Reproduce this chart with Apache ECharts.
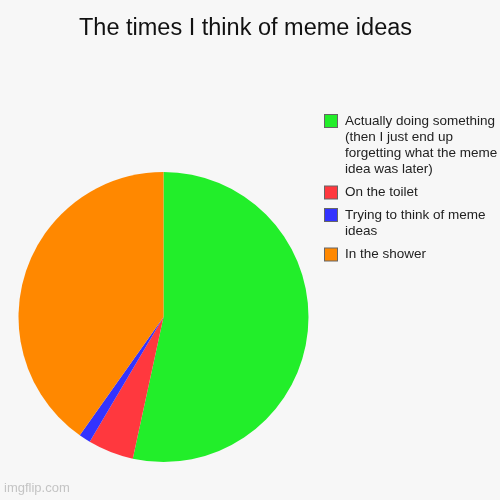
<!DOCTYPE html>
<html>
<head>
<meta charset="utf-8">
<script src="https://cdn.jsdelivr.net/npm/echarts@6/dist/echarts.min.js"></script>
<style>
  html, body { margin: 0; padding: 0; background: #f7f7f7; }
  #chart { width: 500px; height: 500px; }
</style>
</head>
<body>
<div id="chart"></div>
<script>
// chart data
var categories = [
  'Actually doing something\n(then I just end up\nforgetting what the meme\nidea was later)',
  'On the toilet',
  'Trying to think of meme\nideas',
  'In the shower'
];
var values = [53.4, 5.1, 1.3, 40.2];
var colors = ['#22ee2a', '#ff383e', '#3333ff', '#ff8800'];
var boxKeys = ['g', 'r', 'b', 'o'];

var myChart = echarts.init(document.getElementById('chart'));

// legend boxes sit on the first line of the text, so build them as rich text
var rich = {
  sp: { width: 12, height: 16, lineHeight: 16 },
  t: { fontSize: 13.5, lineHeight: 16, color: '#222', padding: [0, 0, 0, 8], fontFamily: 'Liberation Sans' }
};
for (var i = 0; i < boxKeys.length; i++) {
  rich[boxKeys[i]] = {
    width: 12, height: 12, lineHeight: 16,
    backgroundColor: colors[i],
    borderColor: '#666', borderWidth: 1
  };
}

var option = {
  backgroundColor: '#f7f7f7',
  animation: false,
  title: {
    text: 'The times I think of meme ideas',
    left: 79,
    top: 17,
    padding: 0,
    textStyle: {
      fontSize: 23.5,
      fontWeight: 'normal',
      color: '#111',
      fontFamily: 'Liberation Sans'
    }
  },
  legend: {
    orient: 'vertical',
    left: 320,
    top: 114,
    padding: 0,
    itemGap: 8.5,
    itemWidth: 0,
    itemHeight: 14,
    icon: 'rect',
    selectedMode: false,
    data: categories,
    formatter: function (name) {
      var idx = categories.indexOf(name);
      return name.split('\n').map(function (line, j) {
        return (j === 0 ? '{' + boxKeys[idx] + '|}' : '{sp|}') + '{t|' + line + '}';
      }).join('\n');
    },
    textStyle: { rich: rich }
  },
  graphic: [{
    type: 'text',
    left: 4,
    top: 482,
    style: {
      text: 'imgflip.com',
      fill: '#c4c4c4',
      font: '13px "Liberation Sans"'
    }
  }],
  series: [{
    type: 'pie',
    center: [163.5, 317],
    radius: 145,
    startAngle: 90,
    clockwise: true,
    label: { show: false },
    labelLine: { show: false },
    emphasis: { scale: false },
    itemStyle: { borderWidth: 0 },
    data: categories.map(function (c, i) {
      return { name: c, value: values[i], itemStyle: { color: colors[i] } };
    })
  }]
};

myChart.setOption(option);
</script>
</body>
</html>
